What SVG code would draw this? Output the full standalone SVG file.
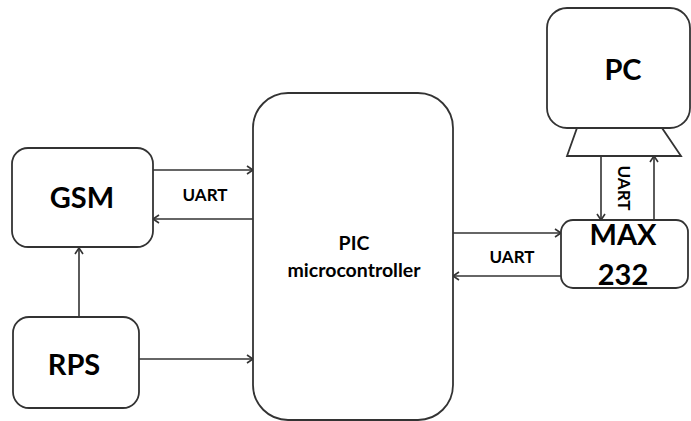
<svg xmlns="http://www.w3.org/2000/svg" width="691" height="421" viewBox="0 0 691 421">
<style>
.box{fill:#fff;stroke:#333;stroke-width:1.8}
.ln{fill:none;stroke:#333;stroke-width:1.6;marker-end:url(#ah)}
.t{font-family:Lato,"Liberation Sans",sans-serif;font-weight:bold;fill:#000;text-anchor:middle}
.big{font-size:29px}
.sm{font-size:17px}
.mid{font-size:19.5px}
</style>
<defs>
<marker id="ah" markerWidth="10" markerHeight="10" refX="8" refY="5" orient="auto" markerUnits="userSpaceOnUse">
<path d="M2,1 L8,5 L2,9" fill="none" stroke="#333" stroke-width="1.6"/>
</marker>
</defs>
<rect width="691" height="421" fill="#fff"/>
<g id="connectors">
<line class="ln" x1="153" y1="170" x2="253" y2="170"/>
<line class="ln" x1="253" y1="219" x2="153" y2="219"/>
<line class="ln" x1="79" y1="317" x2="79" y2="248"/>
<line class="ln" x1="139" y1="359" x2="253" y2="359"/>
<line class="ln" x1="453" y1="233" x2="561" y2="233"/>
<line class="ln" x1="561" y1="276" x2="453" y2="276"/>
<line class="ln" x1="601" y1="156" x2="601" y2="220"/>
<line class="ln" x1="654" y1="220" x2="654" y2="156"/>
<text class="t sm" x="205" y="201">UART</text>
<text class="t sm" x="512" y="263">UART</text>
<text class="t sm" transform="translate(618,188) rotate(90)" x="0" y="0">UART</text>
</g>
<g id="gsm">
<rect class="box" x="12" y="148" width="141" height="99" rx="16"/>
<text class="t big" x="82" y="208">GSM</text>
</g>
<g id="rps">
<rect class="box" x="13" y="317" width="126" height="91" rx="16"/>
<text class="t big" x="74" y="375">RPS</text>
</g>
<g id="pic">
<rect class="box" x="253" y="93" width="200" height="327" rx="35"/>
<text class="t mid" x="354" y="250">PIC</text>
<text class="t mid" x="354" y="277">microcontroller</text>
</g>
<g id="pc">
<rect class="box" x="547" y="8" width="143" height="120" rx="20"/>
<text class="t big" x="623" y="80">PC</text>
<polygon class="box" points="577,128 662,128 681,156 567,156"/>
</g>
<g id="max232">
<rect class="box" x="561" y="220" width="127" height="68" rx="12"/>
<text class="t big" x="623" y="245">MAX</text>
<text class="t big" x="623" y="285">232</text>
</g>
</svg>
